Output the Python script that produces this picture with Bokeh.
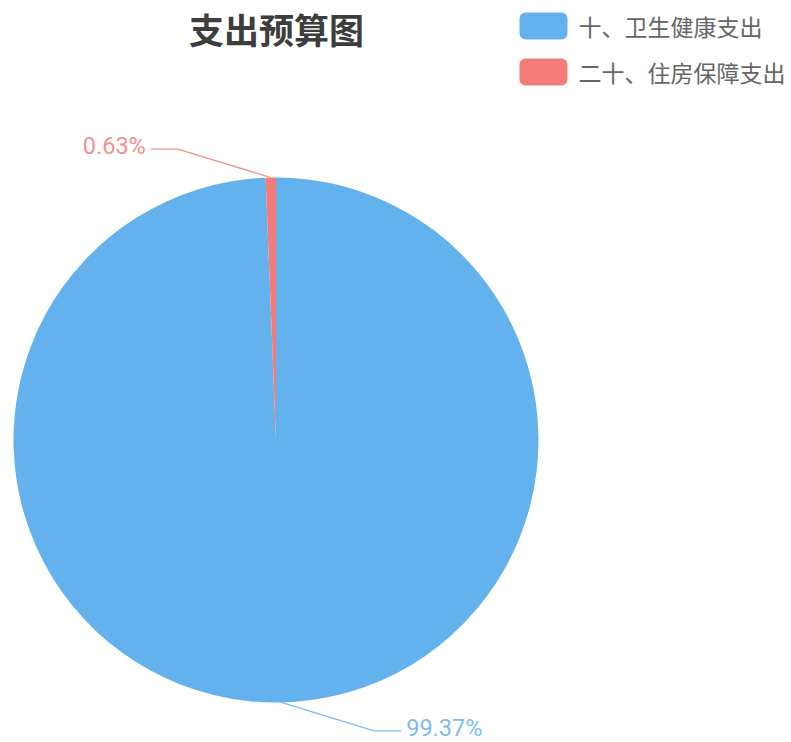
import math
from bokeh.plotting import figure
from bokeh.models import Range1d, BoxAnnotation
from bokeh.core.properties import value
from bokeh.embed import file_html
from bokeh.resources import INLINE

# ---- data ----
title_text = "支出预算图"
categories = ["十、卫生健康支出", "二十、住房保障支出"]
percents = [99.37, 0.63]
colors = ["#63b2ee", "#f47c78"]
label_colors = ["#7dbdf0", "#f5918c"]

W, H = 791, 742
FONT = "Noto Sans CJK SC"

p = figure(width=W, height=H, output_backend="svg", toolbar_location=None,
           x_range=Range1d(0, W), y_range=Range1d(0, H), min_border=0)
p.axis.visible = False
p.grid.visible = False
p.outline_line_color = None
p.background_fill_color = "white"
p.border_fill_color = "white"

def Y(sy):  # page y (from top) -> data y
    return H - sy

cx, cy, r = 275.5, Y(439.5), 262.5

total = sum(percents)
start = math.pi / 2
starts, ends, mids = [], [], []
for v in percents:
    a = 2 * math.pi * v / total
    starts.append(start)
    ends.append(start - a)
    mids.append(start - a / 2)
    start -= a

p.wedge(x=[cx] * len(percents), y=[cy] * len(percents), radius=r,
        start_angle=starts, end_angle=ends, direction="clock",
        fill_color=colors, line_color=None)

# labels with leader lines
for v, m, c in zip(percents, mids, label_colors):
    ex = cx + r * math.cos(m)
    ey = cy + r * math.sin(m)
    sx = 1 if math.cos(m) >= 0 else -1
    sy = 1 if math.sin(m) >= 0 else -1
    kx, ky = ex + sx * 93, ey + sy * 28.5
    hx = kx + sx * 27
    p.line([ex, kx, hx], [ey, ky, ky], line_color=c, line_width=1.3)
    p.text(x=[hx + sx * 5], y=[ky + 3], text=[f"{v:.2f}%"],
           text_color=c, text_font=value("Roboto"), text_font_size="23.5px",
           text_align="left" if sx > 0 else "right", text_baseline="middle")

# title
p.text(x=[276], y=[Y(28)], text=[title_text], text_color="#3d3d3d",
       text_font=value(FONT), text_font_size="35px", text_font_style="bold",
       text_align="center", text_baseline="middle")

# legend
for i, (name, c) in enumerate(zip(categories, colors)):
    top = 12 + i * 46
    p.add_layout(BoxAnnotation(left=519, right=567, top=Y(top), bottom=Y(top + 27),
                               fill_color=c, fill_alpha=1, line_color=None,
                               border_radius=6))
    p.text(x=[578], y=[Y(top + 13.5)], text=[name], text_color="#666666",
           text_font=value(FONT), text_font_size="23px",
           text_align="left", text_baseline="middle")

open("out.html", "w").write(file_html(p, INLINE))
